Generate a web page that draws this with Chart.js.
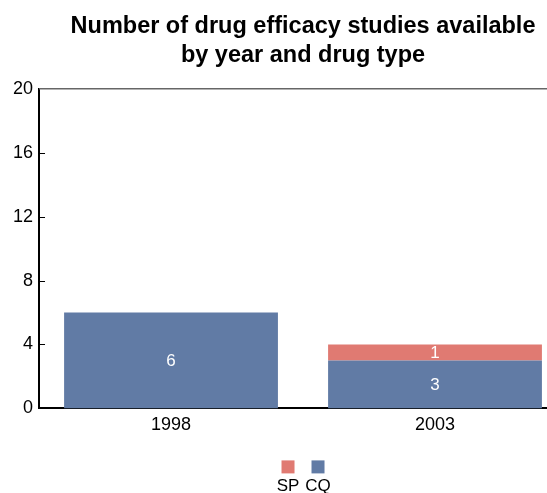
<!DOCTYPE html>
<html>
<head>
<meta charset="utf-8">
<script src="https://cdn.jsdelivr.net/npm/chart.js@4/dist/chart.umd.min.js"></script>
<style>
  html, body { margin: 0; padding: 0; overflow: hidden; background: #fff; }
  #wrap { width: 567px; height: 493px; }
</style>
</head>
<body>
<div id="wrap"><canvas id="grafico" width="567" height="493"></canvas></div>
<script>
const titulo = ["Number of drug efficacy studies available", "by year and drug type"];
const anios = ["1998", "2003"];
const cq = [6, 3];
const sp = [0, 1];
const yTicks = [0, 4, 8, 12, 16, 20];

const azul = "#617ba5";
const rojo = "#e07a72";
const fuente = "'Liberation Sans', Arial, sans-serif";

// etiquetas blancas dentro de cada barra
const etiquetasBarras = {
  id: "etiquetasBarras",
  afterDatasetsDraw(chart) {
    const ctx = chart.ctx;
    ctx.save();
    ctx.fillStyle = "#fff";
    ctx.font = "17px " + fuente;
    ctx.textAlign = "center";
    ctx.textBaseline = "middle";
    chart.data.datasets.forEach((ds, i) => {
      chart.getDatasetMeta(i).data.forEach((bar, j) => {
        const v = ds.data[j];
        if (!v) return;
        ctx.fillText(String(v), bar.x, (bar.y + bar.base) / 2 + 1);
      });
    });
    ctx.restore();
  }
};

// marcas hacia dentro del eje y, linea superior y leyenda con cuadro arriba del texto
const decoracion = {
  id: "decoracion",
  afterDraw(chart) {
    const ctx = chart.ctx;
    const area = chart.chartArea;
    const y = chart.scales.y;
    ctx.save();
    ctx.strokeStyle = "#666";
    ctx.lineWidth = 1.5;
    ctx.beginPath();
    ctx.moveTo(area.left, area.top);
    ctx.lineTo(area.right, area.top);
    ctx.stroke();

    ctx.strokeStyle = "#000";
    ctx.lineWidth = 1;
    yTicks.slice(1, -1).forEach(t => {
      const py = Math.round(y.getPixelForValue(t)) + 0.5;
      ctx.beginPath();
      ctx.moveTo(area.left, py);
      ctx.lineTo(area.left + 6, py);
      ctx.stroke();
    });

    const cx = (area.left + area.right) / 2;
    const items = chart.data.datasets.slice().reverse();
    ctx.font = "17px " + fuente;
    ctx.textAlign = "center";
    ctx.textBaseline = "middle";
    items.forEach((ds, i) => {
      const x = cx - 15 + i * 30;
      ctx.fillStyle = ds.backgroundColor;
      ctx.fillRect(x - 6.5, area.bottom + 52, 13, 13);
      ctx.fillStyle = "#000";
      ctx.fillText(ds.label, x, area.bottom + 78);
    });
    ctx.restore();
  }
};

new Chart(document.getElementById("grafico").getContext("2d"), {
  type: "bar",
  data: {
    labels: anios,
    datasets: [
      { label: "CQ", data: cq, backgroundColor: azul, categoryPercentage: 1, barPercentage: 0.81 },
      { label: "SP", data: sp, backgroundColor: rojo, categoryPercentage: 1, barPercentage: 0.81 }
    ]
  },
  options: {
    responsive: false,
    animation: false,
    devicePixelRatio: 1,
    layout: { padding: { left: 7, right: 0, top: 0, bottom: 51 } },
    plugins: {
      legend: { display: false },
      tooltip: { enabled: false },
      title: {
        display: true,
        fullSize: false,
        text: titulo,
        color: "#000",
        font: { family: fuente, size: 23.5, weight: "bold", lineHeight: 1.23 },
        padding: { top: 12, bottom: 19 }
      }
    },
    scales: {
      x: {
        stacked: true,
        grid: { display: false, drawTicks: false },
        border: { display: true, color: "#000", width: 2 },
        ticks: { color: "#000", font: { family: fuente, size: 18 }, padding: 6 }
      },
      y: {
        stacked: true,
        min: 0,
        max: 20,
        grid: { display: false, drawTicks: false },
        border: { display: true, color: "#000", width: 2 },
        ticks: {
          color: "#000",
          font: { family: fuente, size: 18 },
          padding: 6,
          stepSize: 4,
          callback: v => yTicks.includes(v) ? String(v) : ""
        }
      }
    }
  },
  plugins: [etiquetasBarras, decoracion]
});
</script>
</body>
</html>
